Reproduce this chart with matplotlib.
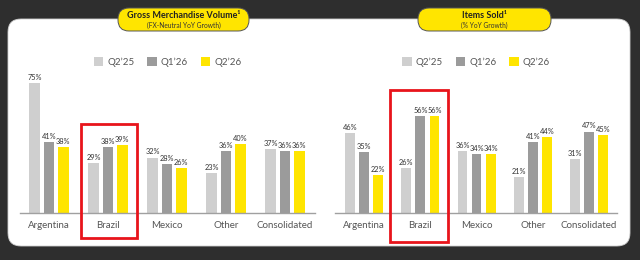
import numpy as np
import matplotlib
matplotlib.use("Agg")
import matplotlib.pyplot as plt
from matplotlib import patches

# --- data ---
categories = ["Argentina", "Brazil", "Mexico", "Other", "Consolidated"]
series_names = ["Q2\u201925", "Q1\u201926", "Q2\u201926"]

gmv_q2_25 = [75, 29, 32, 23, 37]
gmv_q1_26 = [41, 38, 28, 36, 36]
gmv_q2_26 = [38, 39, 26, 40, 36]

items_q2_25 = [46, 26, 36, 21, 31]
items_q1_26 = [35, 56, 34, 41, 47]
items_q2_26 = [22, 56, 34, 44, 45]

colors = ["#cfcfcf", "#9b9b9b", "#ffe500"]
plt.rcParams["font.family"] = ["Lato", "DejaVu Sans"]

W, H = 640, 260
fig = plt.figure(figsize=(W / 100, H / 100), dpi=100)
fig.patch.set_facecolor("#2e2e2e")


def px_box(x0, y0, x1, y1):
    # pixel box (top-left origin) -> display coords
    return x0, H - y1, x1 - x0, y1 - y0


# white panel
x, y, w, h = px_box(8, 19, 630, 246)
fig.add_artist(patches.FancyBboxPatch((x, y), w, h, boxstyle="round,pad=0,rounding_size=13",
                                      facecolor="white", edgecolor="#d0d0d0", lw=0.6,
                                      transform=None, zorder=0))


def make_panel(rect, vals, xlim, off, title, subtitle, pill, red):
    ax = fig.add_axes(rect)
    ax.set_facecolor("none")
    pos = np.arange(len(categories))
    bw = 0.175
    for i, (v, c, n) in enumerate(zip(vals, colors, series_names)):
        bars = ax.bar(pos + (i - 1) * off, v, bw, color=c, label=n, zorder=2)
        ax.bar_label(bars, labels=[f"{x}%" for x in v], padding=1.5,
                     fontsize=5.3, color="#333333")
    ax.set_xlim(*xlim)
    ax.set_ylim(0, 82.5)
    ax.set_xticks(pos)
    ax.set_xticklabels(categories, fontsize=7, color="#555555")
    ax.tick_params(axis="x", length=0, pad=6)
    ax.set_yticks([])
    for s in ["top", "right", "left"]:
        ax.spines[s].set_visible(False)
    ax.spines["bottom"].set_color("#a0a0a0")
    ax.spines["bottom"].set_linewidth(1.0)
    ax.legend(loc="center", bbox_to_anchor=(0.5, 1.056), ncol=3, frameon=False,
              fontsize=7, handlelength=1.0, handleheight=1.0, columnspacing=1.3,
              handletextpad=0.4, labelcolor="#555555")

    # title pill
    px0, py0, px1, py1 = pill
    x, y, w, h = px_box(px0, py0, px1, py1)
    fig.add_artist(patches.FancyBboxPatch((x, y), w, h, boxstyle="round,pad=0,rounding_size=11",
                                          facecolor="#ffe500", edgecolor="#555555", lw=0.7,
                                          transform=None, zorder=3))
    cx = (px0 + px1) / 2 / W
    fig.text(cx, 1 - 16 / H, title, ha="center", va="center", fontsize=6.5,
             fontweight="bold", color="#222222", zorder=4)
    fig.text(cx, 1 - 25 / H, subtitle, ha="center", va="center", fontsize=4.8,
             color="#333333", zorder=4)

    # red highlight box
    x, y, w, h = px_box(*red)
    fig.add_artist(patches.Rectangle((x, y), w, h, fill=False, edgecolor="#e8141b",
                                     lw=2.0, transform=None, zorder=5))
    return ax


make_panel([20 / W, 47 / H, 295 / W, 143 / H],
           [gmv_q2_25, gmv_q1_26, gmv_q2_26], (-0.49, 4.51), 0.245,
           "Gross Merchandise Volume\u00b9", "(FX-Neutral YoY Growth)",
           (118, 8, 249, 31), (81, 124, 137, 238))

make_panel([335 / W, 47 / H, 282 / W, 143 / H],
           [items_q2_25, items_q1_26, items_q2_26], (-0.52, 4.50), 0.25,
           "Items Sold\u00b9", "(% YoY Growth)",
           (418, 8, 551, 31), (390, 90, 448, 242))

fig.savefig("out.png", dpi=100, facecolor=fig.get_facecolor())
